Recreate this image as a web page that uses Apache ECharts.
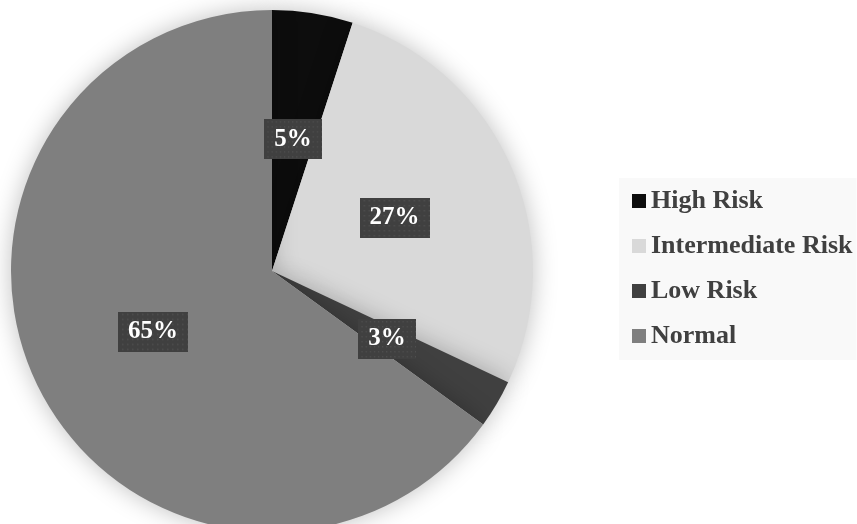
<!DOCTYPE html>
<html>
<head>
<meta charset="utf-8">
<script src="https://cdn.jsdelivr.net/npm/echarts@6/dist/echarts.min.js"></script>
<style>html,body{margin:0;padding:0;background:#fff;}#c{width:857px;height:524px;}</style>
</head>
<body>
<div id="c"></div>
<script>
const categories = ['High Risk', 'Intermediate Risk', 'Low Risk', 'Normal'];
const values = [5, 27, 3, 65];
const colors = ['#0d0d0d', '#d9d9d9', '#404040', '#7f7f7f'];

// dotted texture for label boxes
function makeTexture(w, h) {
  const cv = document.createElement('canvas');
  cv.width = w; cv.height = h;
  const ctx = cv.getContext('2d');
  ctx.fillStyle = '#404040';
  ctx.fillRect(0, 0, w, h);
  ctx.fillStyle = '#4f4f4f';
  for (let y = 2; y < h; y += 5) {
    for (let x = 2 + ((y / 5) % 2 ? 2 : 0); x < w; x += 5) {
      ctx.fillRect(x, y, 1.5, 1.5);
    }
  }
  return cv;
}
const tex = makeTexture(70, 40);

const chart = echarts.init(document.getElementById('c'));
chart.setOption({
  animation: false,
  backgroundColor: '#ffffff',
  legend: {
    orient: 'vertical',
    left: 619,
    top: 178,
    backgroundColor: '#f9f9f9',
    padding: [10, 4, 11, 13],
    itemGap: 19,
    itemWidth: 14,
    itemHeight: 14,
    icon: 'rect',
    textStyle: {
      fontFamily: '"Liberation Serif", "Times New Roman", serif',
      fontWeight: 'bold',
      fontSize: 26,
      lineHeight: 26,
      color: '#404040'
    },
    data: categories
  },
  series: [{
    type: 'pie',
    center: [272, 271],
    radius: [0, 261],
    startAngle: 90,
    clockwise: true,
    itemStyle: {
      shadowBlur: 25,
      shadowColor: 'rgba(0,0,0,0.25)'
    },
    label: {
      show: true,
      position: 'inside',
      formatter: function (p) { return Math.round(p.value) + '%'; },
      fontFamily: '"Liberation Serif", "Times New Roman", serif',
      fontWeight: 'bold',
      fontSize: 25,
      lineHeight: 25,
      color: '#ffffff',
      backgroundColor: { image: tex },
      padding: [8, 10, 7, 10],
      shadowBlur: 6,
      shadowOffsetX: 3,
      shadowOffsetY: 3,
      shadowColor: 'rgba(0,0,0,0.4)'
    },
    labelLine: { show: false },
    emphasis: { disabled: true },
    data: categories.map((n, i) => ({ name: n, value: values[i], itemStyle: { color: colors[i] } }))
  }]
});
</script>
</body>
</html>
